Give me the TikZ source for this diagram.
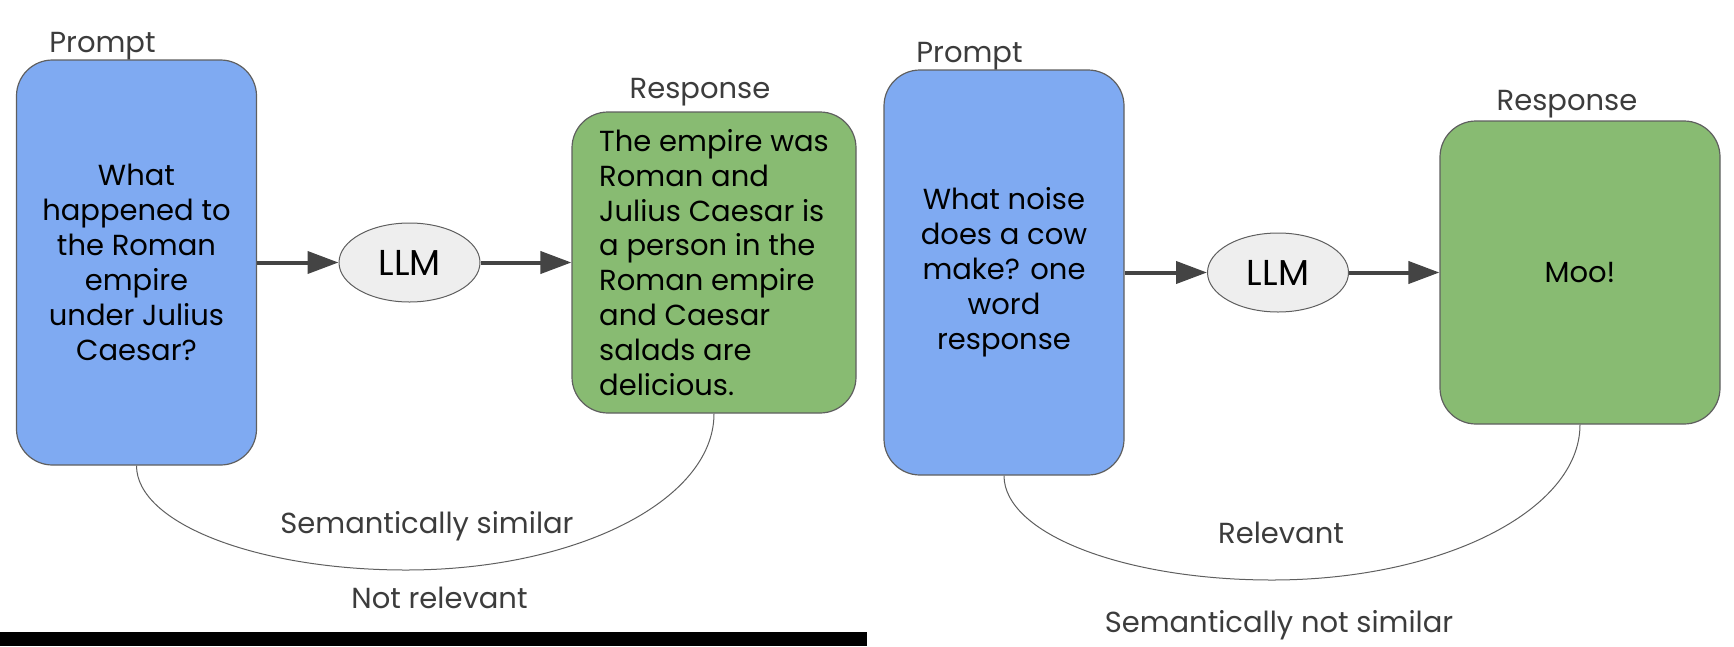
\documentclass[tikz,border=0pt]{standalone}
\usepackage{fontspec}
\setmainfont{Poppins}
\usetikzlibrary{shapes,arrows.meta}

\definecolor{promptblue}{HTML}{7FAAF2}
\definecolor{answergreen}{HTML}{88BB72}
\definecolor{llmgray}{HTML}{EEEEEE}
\definecolor{edgegray}{HTML}{5F5F5F}
\definecolor{arrowgray}{HTML}{444444}
\definecolor{labelgray}{HTML}{3C3C3C}

\tikzset{
  box/.style={draw=edgegray, line width=1.2pt, rounded corners=36pt, inner sep=0pt, font=\fontsize{29}{34.9}\selectfont},
  promptbox/.style={box, fill=promptblue, minimum width=240pt, minimum height=405pt, align=center},
  answerbox/.style={box, fill=answergreen},
  llm/.style={ellipse, draw=edgegray, fill=llmgray, line width=1pt, minimum width=141pt, minimum height=79pt, inner sep=0pt, font=\fontsize{36}{36}\selectfont},
  flow/.style={draw=arrowgray, line width=4pt, -{Triangle[length=31pt,width=22pt]}},
  link/.style={draw=edgegray, line width=1pt},
  caption/.style={anchor=base, text=labelgray, font=\fontsize{29}{34.9}\selectfont},
}

\begin{document}
\begin{tikzpicture}[x=1pt, y=-1pt]
\useasboundingbox (0,0) rectangle (1734,646);
\fill[black] (0,632) rectangle (867,646);
% left: Caesar question
\node[promptbox] (q1) at (136.5,262.5) {What\\happened to\\the Roman\\empire\\under Julius\\Caesar?};
\node[llm] (llm1) at (409.5,262.5) {LLM};
\node[answerbox, align=left, minimum width=284pt, minimum height=301pt] (r1) at (714,262.5) {The empire was\\Roman and\\Julius Caesar is\\a person in the\\Roman empire\\and Caesar\\salads are\\delicious.};
\node[caption] (qlab1) at (102.5,52) {Prompt};
\node[caption] (rlab1) at (700,98) {Response};
\draw[flow] (q1.east) -- (llm1.west);
\draw[flow] (llm1.east) -- (r1.west);
\coordinate (low1) at (406,570);
\draw[link] (q1.south) .. controls +(0,58) and +(-148,0) .. (low1) .. controls +(170,0) and +(0,87) .. (r1.south);
\node[caption] (sim1) at (427,533) {Semantically similar};
\node[caption] (rel1) at (439.5,608) {Not relevant};
% right: cow question
\node[promptbox] (q2) at (1004,272.5) {What noise\\does a cow\\make? one\\word\\response};
\node[llm] (llm2) at (1278,272.5) {LLM};
\node[answerbox, align=center, minimum width=280pt, minimum height=303pt] (r2) at (1580,272.5) {Moo!};
\node[caption] (qlab2) at (969.5,62) {Prompt};
\node[caption] (rlab2) at (1567,110) {Response};
\draw[flow] (q2.east) -- (llm2.west);
\draw[flow] (llm2.east) -- (r2.west);
\coordinate (low2) at (1272,580);
\draw[link] (q2.south) .. controls +(0,58) and +(-148,0) .. (low2) .. controls +(170,0) and +(0,86) .. (r2.south);
\node[caption] (rel2) at (1281,543) {Relevant};
\node[caption] (sim2) at (1279,632) {Semantically not similar};
\end{tikzpicture}
\end{document}
